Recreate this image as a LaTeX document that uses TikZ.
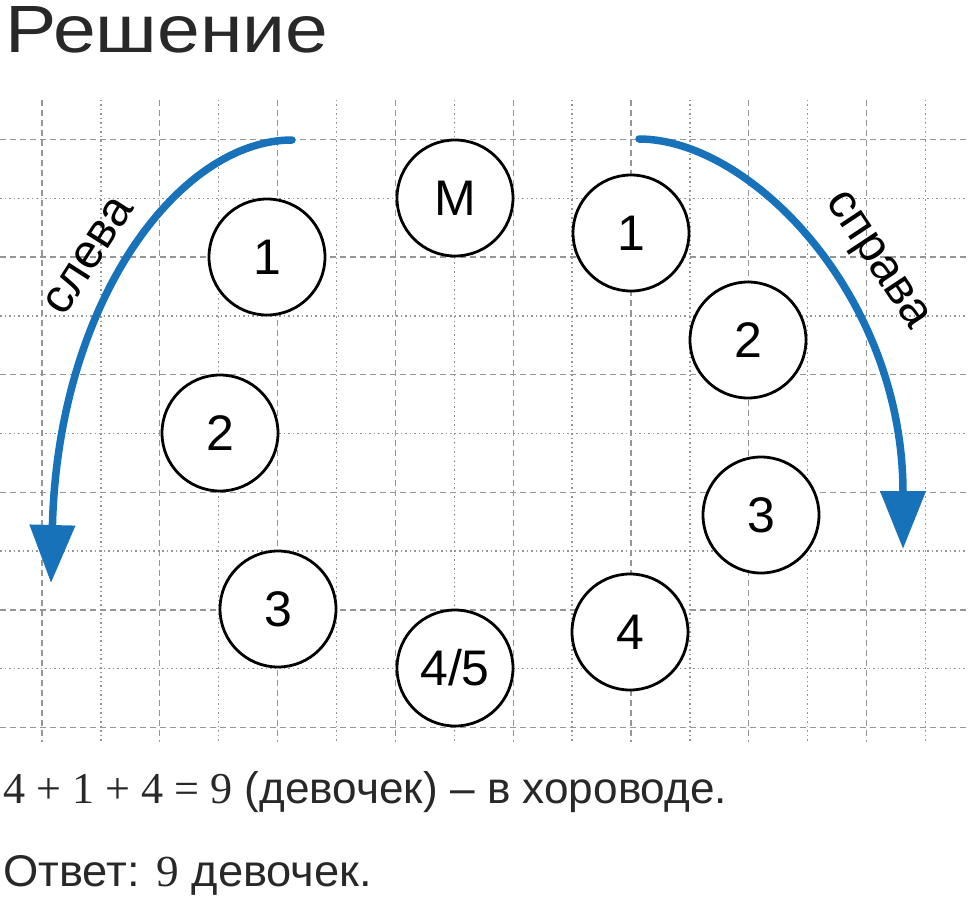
\documentclass[tikz,border=0pt]{standalone}
\usepackage{fontspec}
\setmainfont{Liberation Sans}
\newfontfamily\digfont{Liberation Serif}
\usetikzlibrary{arrows.meta}
\definecolor{arrblue}{RGB}{24,114,186}
\definecolor{gridgray}{RGB}{150,150,150}
\definecolor{txtgray}{RGB}{40,40,40}
\begin{document}
\begin{tikzpicture}[x=1pt,y=-1pt,
  kid/.style={circle,draw=black,line width=2.8pt,fill=white,minimum size=116pt,inner sep=0pt,font=\fontsize{50}{50}\selectfont},
  gdash/.style={draw=gridgray,line width=1.3pt,dash pattern=on 6pt off 4pt},
  gdot/.style={draw=gridgray,line width=1.3pt,dash pattern=on 1.5pt off 3pt},
  arr/.style={draw=arrblue,line width=7.5pt,line cap=round,-{Triangle[length=58pt,width=44pt]}},
  lbl/.style={font=\fontsize{48}{48}\selectfont,text=black},
  txt/.style={anchor=base west,inner sep=0pt,text=txtgray}]
\useasboundingbox (0,0) rectangle (968,896);
\fill[white] (0,0) rectangle (968,896);
% grid
\foreach \i in {0,2,...,14} { \draw[gdash] ({42+58.9*\i},100) -- ({42+58.9*\i},742); }
\foreach \i in {1,3,...,15} { \draw[gdot] ({42+58.9*\i},100) -- ({42+58.9*\i},742); }
\foreach \j in {0,2,...,10} { \draw[gdash] (0,{139.5+58.8*\j}) -- (968,{139.5+58.8*\j}); }
\foreach \j in {1,3,...,9} { \draw[gdot] (0,{139.5+58.8*\j}) -- (968,{139.5+58.8*\j}); }
% circles
\node[kid] (m) at (455,198) {М};
\node[kid] (l1) at (267,257) {1};
\node[kid] (l2) at (220,433) {2};
\node[kid] (l3) at (278,609) {3};
\node[kid] (b) at (455,668) {4/5};
\node[kid] (r4) at (630,632) {4};
\node[kid] (r3) at (761,515) {3};
\node[kid] (r2) at (748,340) {2};
\node[kid] (r1) at (631,233) {1};
% arrows
\coordinate (ls) at (292,140);
\coordinate (le) at (51,583);
\draw[arr] (ls) .. controls (180,140) and (58,300) .. (le);
\coordinate (rs) at (639,139);
\coordinate (re) at (903,549);
\draw[arr] (rs) .. controls (750,139) and (903,295) .. (re);
\node[lbl,rotate=57.5] (sl) at (89,256) {слева};
\node[lbl,rotate=-56.5] (sr) at (875,262) {справа};
% texts
\node[txt] (title) at (5,53) {\resizebox{323pt}{46pt}{\fontsize{64}{64}\selectfont Решение}};
\node[txt] (e1) at (3,803) {\resizebox{724pt}{32pt}{\fontsize{44}{44}\selectfont {\digfont 4 + 1 + 4 = 9} (девочек) – в хороводе.}};
\node[txt] (e2) at (3,886) {\resizebox{369pt}{31pt}{\fontsize{44}{44}\selectfont Ответ: {\digfont 9} девочек.}};
\end{tikzpicture}
\end{document}
